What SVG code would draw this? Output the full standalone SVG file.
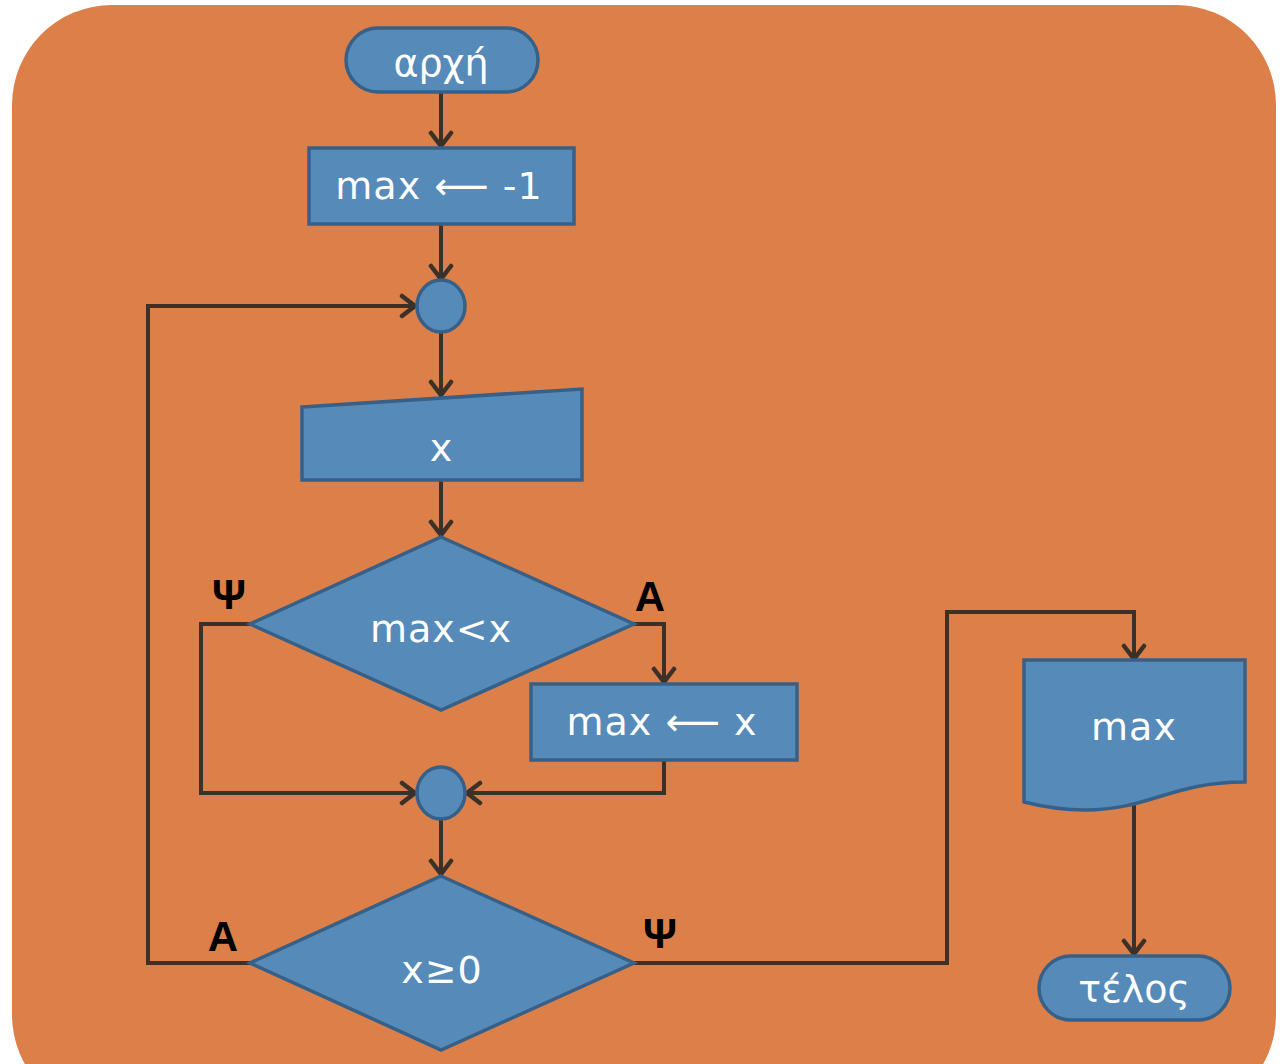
<svg xmlns="http://www.w3.org/2000/svg" width="1283" height="1064" viewBox="0 0 1283 1064">
<style>
.n{fill:#558AB9;stroke:#376088;stroke-width:3.5}
.t{fill:#fff;font-family:"DejaVu Sans","Liberation Sans",sans-serif;text-anchor:middle;font-size:38px}
.c{fill:none;stroke:#3B3129;stroke-width:4;stroke-linejoin:miter}
.l{fill:#000;font-family:"Liberation Sans",Arial,sans-serif;font-weight:bold;font-size:42px;text-anchor:middle}
</style>
<defs>
<marker id="ah" markerUnits="userSpaceOnUse" viewBox="0 0 26 26" markerWidth="26" markerHeight="26" refX="22" refY="13" orient="auto">
<path d="M9,3 L22,13 L9,23" fill="none" stroke="#3B3129" stroke-width="4.5" stroke-linecap="round" stroke-linejoin="miter"/>
</marker>
</defs>
<rect x="12" y="5" width="1264" height="1110" rx="100" fill="#DC7F48"/>
<g id="connectors">
<path class="c" d="M441,92 V146" marker-end="url(#ah)"/>
<path class="c" d="M441,224 V279" marker-end="url(#ah)"/>
<path class="c" d="M441,332 V395" marker-end="url(#ah)"/>
<path class="c" d="M441,480 V535" marker-end="url(#ah)"/>
<path class="c" d="M250,624 H201 V793 H415" marker-end="url(#ah)"/>
<path class="c" d="M634,624 H664 V682" marker-end="url(#ah)"/>
<path class="c" d="M664,760 V793 H467" marker-end="url(#ah)"/>
<path class="c" d="M441,819 V874" marker-end="url(#ah)"/>
<path class="c" d="M250,963 H148 V306 H415" marker-end="url(#ah)"/>
<path class="c" d="M634,963 H947 V612 H1134 V659" marker-end="url(#ah)"/>
<path class="c" d="M1134,802 V954" marker-end="url(#ah)"/>
</g>
<g id="start">
<rect class="n" x="346" y="28" width="192" height="64" rx="32"/>
<text class="t" x="441" y="76" font-size="44">αρχή</text>
</g>
<g id="init">
<rect class="n" x="309" y="148" width="265" height="76"/>
<text class="t" x="439" y="199" letter-spacing="1">max ⟵ -1</text>
</g>
<g id="join1">
<ellipse class="n" cx="441" cy="306" rx="24" ry="26"/>
</g>
<g id="input">
<polygon class="n" points="302,407 582,389 582,480 302,480"/>
<text class="t" x="441" y="461">x</text>
</g>
<g id="cond1">
<polygon class="n" points="441,537 634,624 441,710 250,624"/>
<text class="t" x="441" y="642" letter-spacing="1">max&lt;x</text>
</g>
<text class="l" x="229" y="609">Ψ</text>
<text class="l" x="650" y="611">A</text>
<g id="assign">
<rect class="n" x="531" y="684" width="266" height="76"/>
<text class="t" x="662" y="735" letter-spacing="1">max ⟵ x</text>
</g>
<g id="join2">
<ellipse class="n" cx="441" cy="793" rx="24" ry="26"/>
</g>
<g id="cond2">
<polygon class="n" points="441,876 634,963 441,1050 250,963"/>
<text class="t" x="442" y="983" font-size="44" letter-spacing="1">x≥0</text>
</g>
<text class="l" x="223" y="951">A</text>
<text class="l" x="660" y="948">Ψ</text>
<g id="output">
<path class="n" d="M1024,660 H1245 V782 C1170,782 1150,810 1085,810 C1060,810 1040,806 1024,802 Z"/>
<text class="t" x="1134" y="740" letter-spacing="1">max</text>
</g>
<g id="end">
<rect class="n" x="1039" y="956" width="191" height="64" rx="32"/>
<text class="t" x="1134" y="1002" font-size="44">τέλος</text>
</g>
</svg>
